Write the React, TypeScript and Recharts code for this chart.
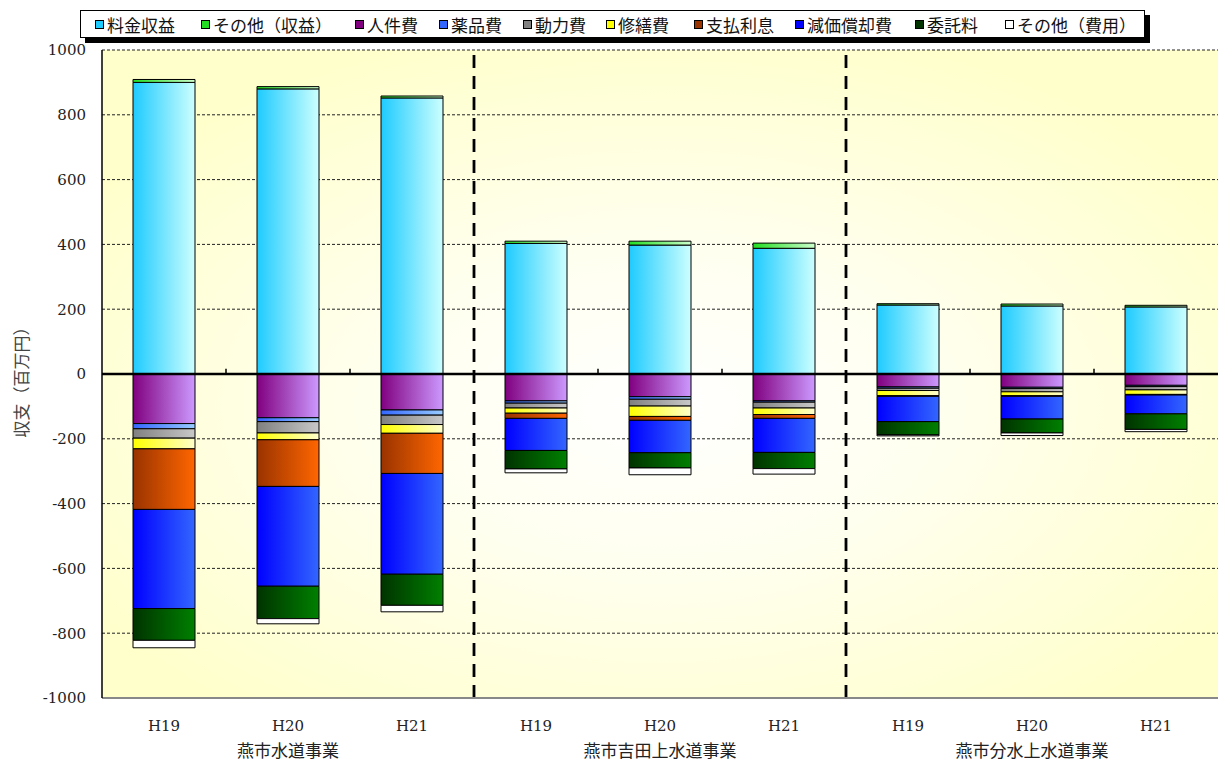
import React from "react";
import {
  BarChart,
  Bar,
  XAxis,
  YAxis,
  CartesianGrid,
  ReferenceLine,
} from "recharts";

// categories
const years = ["H19", "H20", "H21", "H19", "H20", "H21", "H19", "H20", "H21"];
const groups = ["燕市水道事業", "燕市吉田上水道事業", "燕市分水上水道事業"];

// 収益 (positive)
const ryokin = [900, 880, 852, 403, 398, 388, 213, 210, 207];
const sonotaShueki = [9, 7, 6, 7, 12, 16, 4, 6, 5];
// 費用 (negative)
const jinken = [-153, -135, -111, -83, -70, -83, -40, -41, -35];
const yakuhin = [-16, -12, -16, -7, -8, -4, -4, -4, -4];
const douryoku = [-29, -35, -29, -15, -21, -18, -7, -10, -10];
const shuzen = [-33, -21, -27, -16, -32, -20, -16, -12, -14];
const shiharai = [-187, -144, -124, -16, -12, -12, -2, -2, -2];
const genka = [-306, -308, -311, -99, -100, -105, -78, -70, -58];
const itaku = [-98, -100, -96, -57, -47, -50, -41, -43, -48];
const sonotaHiyo = [-23, -16, -20, -12, -21, -17, -3, -8, -7];

const yTicks = [-1000, -800, -600, -400, -200, 0, 200, 400, 600, 800, 1000];

const series = [
  { key: "ryokin", name: "料金収益", vals: ryokin, c1: "#1ECBFF", c2: "#CCFFFF", legendX: 95 },
  { key: "sonotaShueki", name: "その他（収益）", vals: sonotaShueki, c1: "#22DD22", c2: "#CCFFCC", legendX: 201 },
  { key: "jinken", name: "人件費", vals: jinken, c1: "#800080", c2: "#CC99FF", legendX: 355 },
  { key: "yakuhin", name: "薬品費", vals: yakuhin, c1: "#3366FF", c2: "#99CCFF", legendX: 439 },
  { key: "douryoku", name: "動力費", vals: douryoku, c1: "#808080", c2: "#C8C8C8", legendX: 523 },
  { key: "shuzen", name: "修繕費", vals: shuzen, c1: "#FFFF00", c2: "#FFFFCC", legendX: 606 },
  { key: "shiharai", name: "支払利息", vals: shiharai, c1: "#993300", c2: "#FF6600", legendX: 694 },
  { key: "genka", name: "減価償却費", vals: genka, c1: "#0000FF", c2: "#3366FF", legendX: 795 },
  { key: "itaku", name: "委託料", vals: itaku, c1: "#003300", c2: "#008000", legendX: 915 },
  { key: "sonotaHiyo", name: "その他（費用）", vals: sonotaHiyo, c1: "#FFFFFF", c2: "#FFFFFF", legendX: 1005 },
];

const data = years.map((y, i) => {
  const row: any = { id: String(i), year: y, group: groups[Math.floor(i / 3)] };
  series.forEach((s) => (row[s.key] = s.vals[i]));
  return row;
});

const numFont = "'DejaVu Serif', serif";
const jpFont = "'Noto Sans CJK JP', sans-serif";

const CatTick = (props: any) => {
  const { x, y, payload } = props;
  const i = Number(payload.value);
  return (
    <g>
      <text x={x} y={y + 25} textAnchor="middle" fontFamily={numFont} fontSize={15} fill="#222">
        {years[i]}
      </text>
      {i % 3 === 1 && (
        <text x={x} y={y + 51} textAnchor="middle" fontFamily={jpFont} fontSize={17} fill="#222">
          {groups[Math.floor(i / 3)]}
        </text>
      )}
    </g>
  );
};

const Legend = () => (
  <div
    style={{
      position: "absolute",
      left: 80,
      top: 10,
      width: 1063,
      height: 26,
      border: "1px solid #000",
      background: "#fff",
      boxShadow: "5px 5px 0 #000",
    }}
  >
    {series.map((s) => (
      <div
        key={s.key}
        style={{
          position: "absolute",
          left: s.legendX - 81,
          top: 0,
          height: 26,
          display: "flex",
          alignItems: "center",
          fontFamily: jpFont,
          fontSize: 17,
          color: "#111",
          whiteSpace: "nowrap",
        }}
      >
        <span
          style={{
            display: "inline-block",
            width: 7,
            height: 7,
            border: "1px solid #000",
            background: s.c1 === "#FFFFFF" ? "#fff" : s.c1,
            marginRight: 3,
          }}
        />
        {s.name}
      </div>
    ))}
  </div>
);

export default function App() {
  return (
    <div style={{ position: "absolute", left: 0, top: 0, width: 1218, height: 765, background: "#fff" }}>
      <BarChart
        width={1218}
        height={765}
        data={data}
        stackOffset="sign"
        margin={{ top: 50, right: 0, bottom: 7, left: 0 }}
      >
        <defs>
          <radialGradient id="bg" cx="50%" cy="55%" r="60%">
            <stop offset="0%" stopColor="#FFFFFF" />
            <stop offset="40%" stopColor="#FFFFF0" />
            <stop offset="100%" stopColor="#FFFFCC" />
          </radialGradient>
          {series.map((s) => (
            <linearGradient key={s.key} id={"g-" + s.key} x1="0" y1="0" x2="1" y2="0">
              <stop offset="0%" stopColor={s.c1} />
              <stop offset="100%" stopColor={s.c2} />
            </linearGradient>
          ))}
        </defs>
        <CartesianGrid
          vertical={false}
          stroke="#222"
          strokeDasharray="3 2"
          fill="url(#bg)"
          fillOpacity={1}
        />
        <XAxis
          dataKey="id"
          height={60}
          axisLine={{ stroke: "#888", strokeWidth: 2 }}
          tickLine={false}
          interval={0}
          tick={<CatTick />}
        />
        <YAxis
          width={102}
          domain={[-1000, 1000]}
          ticks={yTicks}
          interval={0}
          axisLine={{ stroke: "#000", strokeWidth: 1.5 }}
          tickLine={false}
          tickMargin={10}
          tick={{ fontFamily: numFont, fontSize: 15, fill: "#222" }}
          label={{
            content: () => (
              <text
                x={20}
                y={378}
                transform="rotate(-90 20 378)"
                textAnchor="middle"
                dominantBaseline="central"
                fontFamily={jpFont}
                fontSize={17}
                fill="#444"
              >
                収支（百万円）
              </text>
            ),
          }}
        />
        {series.map((s) => (
          <Bar
            key={s.key}
            dataKey={s.key}
            name={s.name}
            stackId="a"
            barSize={62}
            fill={`url(#g-${s.key})`}
            stroke="#000"
            strokeWidth={1}
            isAnimationActive={false}
          />
        ))}
        <ReferenceLine y={0} stroke="#000" strokeWidth={2.5} />
        {["0", "1", "3", "4", "6", "7"].map((c) => (
          <ReferenceLine
            key={"t" + c}
            position="end"
            segment={[
              { x: c, y: 0 },
              { x: c, y: 16 },
            ]}
            stroke="#000"
            strokeWidth={1.5}
          />
        ))}
        {["2", "5"].map((c) => (
          <ReferenceLine
            key={"sep" + c}
            x={c}
            position="end"
            stroke="#000"
            strokeWidth={2.8}
            strokeDasharray="13 8"
          />
        ))}
      </BarChart>
      <Legend />
    </div>
  );
}
